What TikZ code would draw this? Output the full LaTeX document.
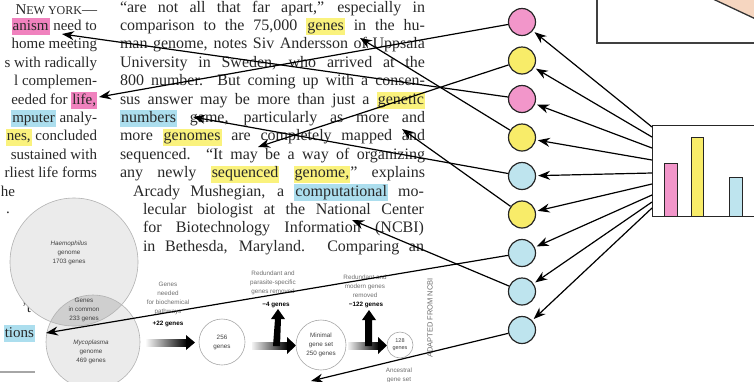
\documentclass[tikz,border=0pt]{standalone}
\usepackage{fontspec}
\setmainfont{Liberation Serif}
\setsansfont{Liberation Sans}
\usetikzlibrary{arrows.meta}
\definecolor{hpink}{RGB}{240,130,190}
\definecolor{hyellow}{RGB}{250,242,125}
\definecolor{hblue}{RGB}{172,222,238}
\definecolor{cpink}{RGB}{242,150,202}
\definecolor{cyellow}{RGB}{248,236,105}
\definecolor{cblue}{RGB}{190,228,238}
\definecolor{peach}{RGB}{246,214,192}
\definecolor{ink}{RGB}{40,40,40}
\definecolor{figgray}{RGB}{110,110,110}
\newcommand\hlw[2]{{\setlength{\fboxsep}{1pt}\colorbox{#1}{\rule[-4pt]{0pt}{15pt}#2}}}
\begin{document}
\begin{tikzpicture}[x=1pt,y=-1pt,
  txt/.style={inner sep=0pt, outer sep=0pt, text=ink, font=\fontsize{16}{18}\selectfont},
  ltxt/.style={txt, font=\fontsize{15}{18}\selectfont},
  circ/.style={circle, draw=black!85, line width=1.2pt, minimum size=27pt, inner sep=0pt},
  arr/.style={-{Stealth[length=12pt,width=9pt]}, line width=1.2pt, black},
  lab/.style={align=center, inner sep=0pt, text=figgray, font=\sffamily\fontsize{6.3}{9}\selectfont},
  boldlab/.style={lab, text=black, font=\sffamily\bfseries\fontsize{6.3}{9}\selectfont},
  flowc/.style={circle, draw=gray!70, line width=0.6pt, inner sep=0pt}]
\useasboundingbox (0,0) rectangle (754,381);
\clip (0,0) rectangle (754,381);

% ---------- left column ----------
\node[ltxt, anchor=base east] (l1) at (97,14) {N{\fontsize{12}{14}\selectfont EW YORK}---};
\node[ltxt, anchor=base east] (l2) at (97,30.4) {\hlw{hpink}{anism} need to};
\node[ltxt, anchor=base east] (l3) at (97,48.8) {home meeting};
\node[ltxt, anchor=base east] (l4) at (97,67.2) {s with radically};
\node[ltxt, anchor=base east] (l5) at (97,85.6) {l complemen-};
\node[ltxt, anchor=base east] (l6) at (97,104) {eeded for \hlw{hpink}{life,}};
\node[ltxt, anchor=base east] (l7) at (97,122.4) {\hlw{hblue}{mputer} analy-};
\node[ltxt, anchor=base east] (l8) at (97,140.8) {\hlw{hyellow}{nes,} concluded};
\node[ltxt, anchor=base east] (l9) at (97,159.2) {sustained with};
\node[ltxt, anchor=base east] (l10) at (97,177.6) {rliest life forms};
\node[ltxt, anchor=base west] (l11) at (1,196) {he};
\node[ltxt, anchor=base west] (l12) at (6,213) {.};
\node[ltxt, anchor=base east] (l13) at (31,312) {’t};
\node[ltxt, anchor=base east] (l14) at (35,337) {\hlw{hblue}{tions}};
\draw[gray!70, line width=1.8pt] (0,372) -- (35,372);

% ---------- middle column ----------
\node[txt, anchor=base west] (m1) at (120,12) {\makebox[305pt][s]{“are not all that far apart,” especially in}};
\node[txt, anchor=base west] (m2) at (120,30.4) {\makebox[305pt][s]{comparison to the 75,000 \hlw{hyellow}{genes} in the hu-}};
\node[txt, anchor=base west] (m3) at (120,48.8) {\makebox[305pt][s]{man genome, notes Siv Andersson of Uppsala}};
\node[txt, anchor=base west] (m4) at (120,67.2) {\makebox[305pt][s]{University in Sweden, who arrived at the}};
\node[txt, anchor=base west] (m5) at (120,85.6) {\makebox[305pt][s]{800 number. But coming up with a consen-}};
\node[txt, anchor=base west] (m6) at (120,104) {\makebox[305pt][s]{sus answer may be more than just a \hlw{hyellow}{genetic}}};
\node[txt, anchor=base west] (m7) at (120,122.4) {\makebox[305pt][s]{\hlw{hblue}{numbers} game, particularly as more and}};
\node[txt, anchor=base west] (m8) at (120,140.8) {\makebox[305pt][s]{more \hlw{hyellow}{genomes} are completely mapped and}};
\node[txt, anchor=base west] (m9) at (120,159.2) {\makebox[305pt][s]{sequenced. “It may be a way of organizing}};
\node[txt, anchor=base west] (m10) at (120,177.6) {\makebox[305pt][s]{any newly \hlw{hyellow}{sequenced} \hlw{hyellow}{genome,}” explains}};
\node[txt, anchor=base west] (m11) at (133,196) {\makebox[291pt][s]{Arcady Mushegian, a \hlw{hblue}{computational} mo-}};
\node[txt, anchor=base west] (m12) at (143,214.4) {\makebox[281pt][s]{lecular biologist at the National Center}};
\node[txt, anchor=base west] (m13) at (143,232.8) {\makebox[281pt][s]{for Biotechnology Information (NCBI)}};
\node[txt, anchor=base west] (m14) at (143,251.2) {\makebox[281pt][s]{in Bethesda, Maryland. Comparing an}};

% ---------- gene figure ----------
\fill[gray!16] (74,262) circle (64);
\fill[gray!16] (93,342) circle (47);
\begin{scope}
  \clip (74,262) circle (64);
  \fill[gray!38] (93,342) circle (47);
\end{scope}
\draw[gray!60, line width=0.6pt] (74,262) circle (64);
\draw[gray!60, line width=0.6pt] (93,342) circle (47);
\node[lab, text=black!75] (hae) at (69,253) {\textit{Haemophilus}\\genome\\1703 genes};
\node[lab, text=black!75] (common) at (84,310) {Genes\\in common\\233 genes};
\node[lab, text=black!75] (myco) at (91,352) {\textit{Mycoplasma}\\genome\\469 genes};

\node[lab] (needed) at (168,298) {Genes\\needed\\for biochemical\\pathways};
\node[boldlab] (plus22) at (168,324) {+22 genes};
\shade[left color=gray!5, right color=black] (146,339) rectangle (187,346);
\fill (186,335) -- (195,342.5) -- (186,350) -- cycle;

\node[flowc, minimum size=46pt, lab, text=black!75] (g256) at (222,342) {256\\genes};

\node[lab] (red1) at (273,283) {Redundant and\\parasite-specific\\genes removed};
\node[boldlab] (minus4) at (276,305) {−4 genes};
\shade[left color=gray!10, right color=black] (252,342) rectangle (288,349);
\fill (287,337) -- (296,345.5) -- (287,354) -- cycle;
\fill (273,346) -- (280,346) -- (281,319) -- (285,319) -- (278,309) -- (271,319) -- (275,319) -- cycle;

\node[flowc, minimum size=50pt, lab, text=black!75] (gmin) at (321,345) {Minimal\\gene set\\250 genes};

\node[lab] (red2) at (365,286) {Redundant and\\modern genes\\removed};
\node[boldlab] (minus122) at (366,305) {−122 genes};
\shade[left color=gray!10, right color=black] (348,342) rectangle (379,349);
\fill (378,337) -- (387,345.5) -- (378,354) -- cycle;
\fill (365,346) -- (372,346) -- (372,320) -- (376,320) -- (369,310) -- (362,320) -- (365,320) -- cycle;

\node[flowc, minimum size=26pt, lab, text=black!75, font=\sffamily\fontsize{5.5}{7}\selectfont] (g128) at (400,345) {128\\genes};
\node[lab] (anc) at (399,375) {Ancestral\\gene set};
\node[lab, rotate=90, font=\sffamily\fontsize{7.5}{8}\selectfont] (credit) at (430,318) {ADAPTED FROM NCBI};

% ---------- top-right box ----------
\fill[peach] (713,-1) -- (760,21) -- (760,-1) -- cycle;
\draw[black!80, line width=1.3pt] (713,-1) -- (760,21);
\draw[black!75, line width=1.3pt] (597,-5) -- (597,43) -- (760,43);

% ---------- bar chart ----------
\node[draw=black!85, line width=1.3pt, fill=white, anchor=north west, minimum width=130pt, minimum height=91pt, inner sep=0pt] (chart) at (652,125) {};
\draw[black!85, line width=1pt, fill=cpink] (664,163) rectangle (677,216);
\draw[black!85, line width=1pt, fill=cyellow] (691,137) rectangle (703,216);
\draw[black!85, line width=1pt, fill=cblue] (729,177) rectangle (742,216);

% ---------- coloured circles ----------
\node[circ, fill=cpink] (c1) at (522,22) {};
\node[circ, fill=cyellow] (c2) at (522,60.5) {};
\node[circ, fill=cpink] (c3) at (522,99) {};
\node[circ, fill=cyellow] (c4) at (522,137.5) {};
\node[circ, fill=cblue] (c5) at (522,176) {};
\node[circ, fill=cyellow] (c6) at (522,214.5) {};
\node[circ, fill=cblue] (c7) at (522,253) {};
\node[circ, fill=cblue] (c8) at (522,291.5) {};
\node[circ, fill=cblue] (c9) at (522,330) {};

% start points on the chart edge
\coordinate (s1) at (652,127);
\coordinate (s2) at (652,137);
\coordinate (s3) at (652,148);
\coordinate (s4) at (652,160);
\coordinate (s5) at (652,173);
\coordinate (s6) at (652,184);
\coordinate (s7) at (652,195);
\coordinate (s8) at (652,202);
\coordinate (s9) at (652,208);

% word targets
\coordinate (t1) at (99,97);
\coordinate (t2) at (258,147);
\coordinate (t3) at (62,34);
\coordinate (t4) at (360,38);
\coordinate (t5) at (193,117);
\coordinate (t6) at (402,129);
\coordinate (t7) at (46,333);
\coordinate (t8) at (352,220);
\coordinate (t9) at (311,381);

\foreach \i in {1,...,9} {
  \draw[arr, shorten >=2pt] (s\i) -- (c\i);
  \draw[arr] (c\i) -- (t\i);
}
\end{tikzpicture}
\end{document}
